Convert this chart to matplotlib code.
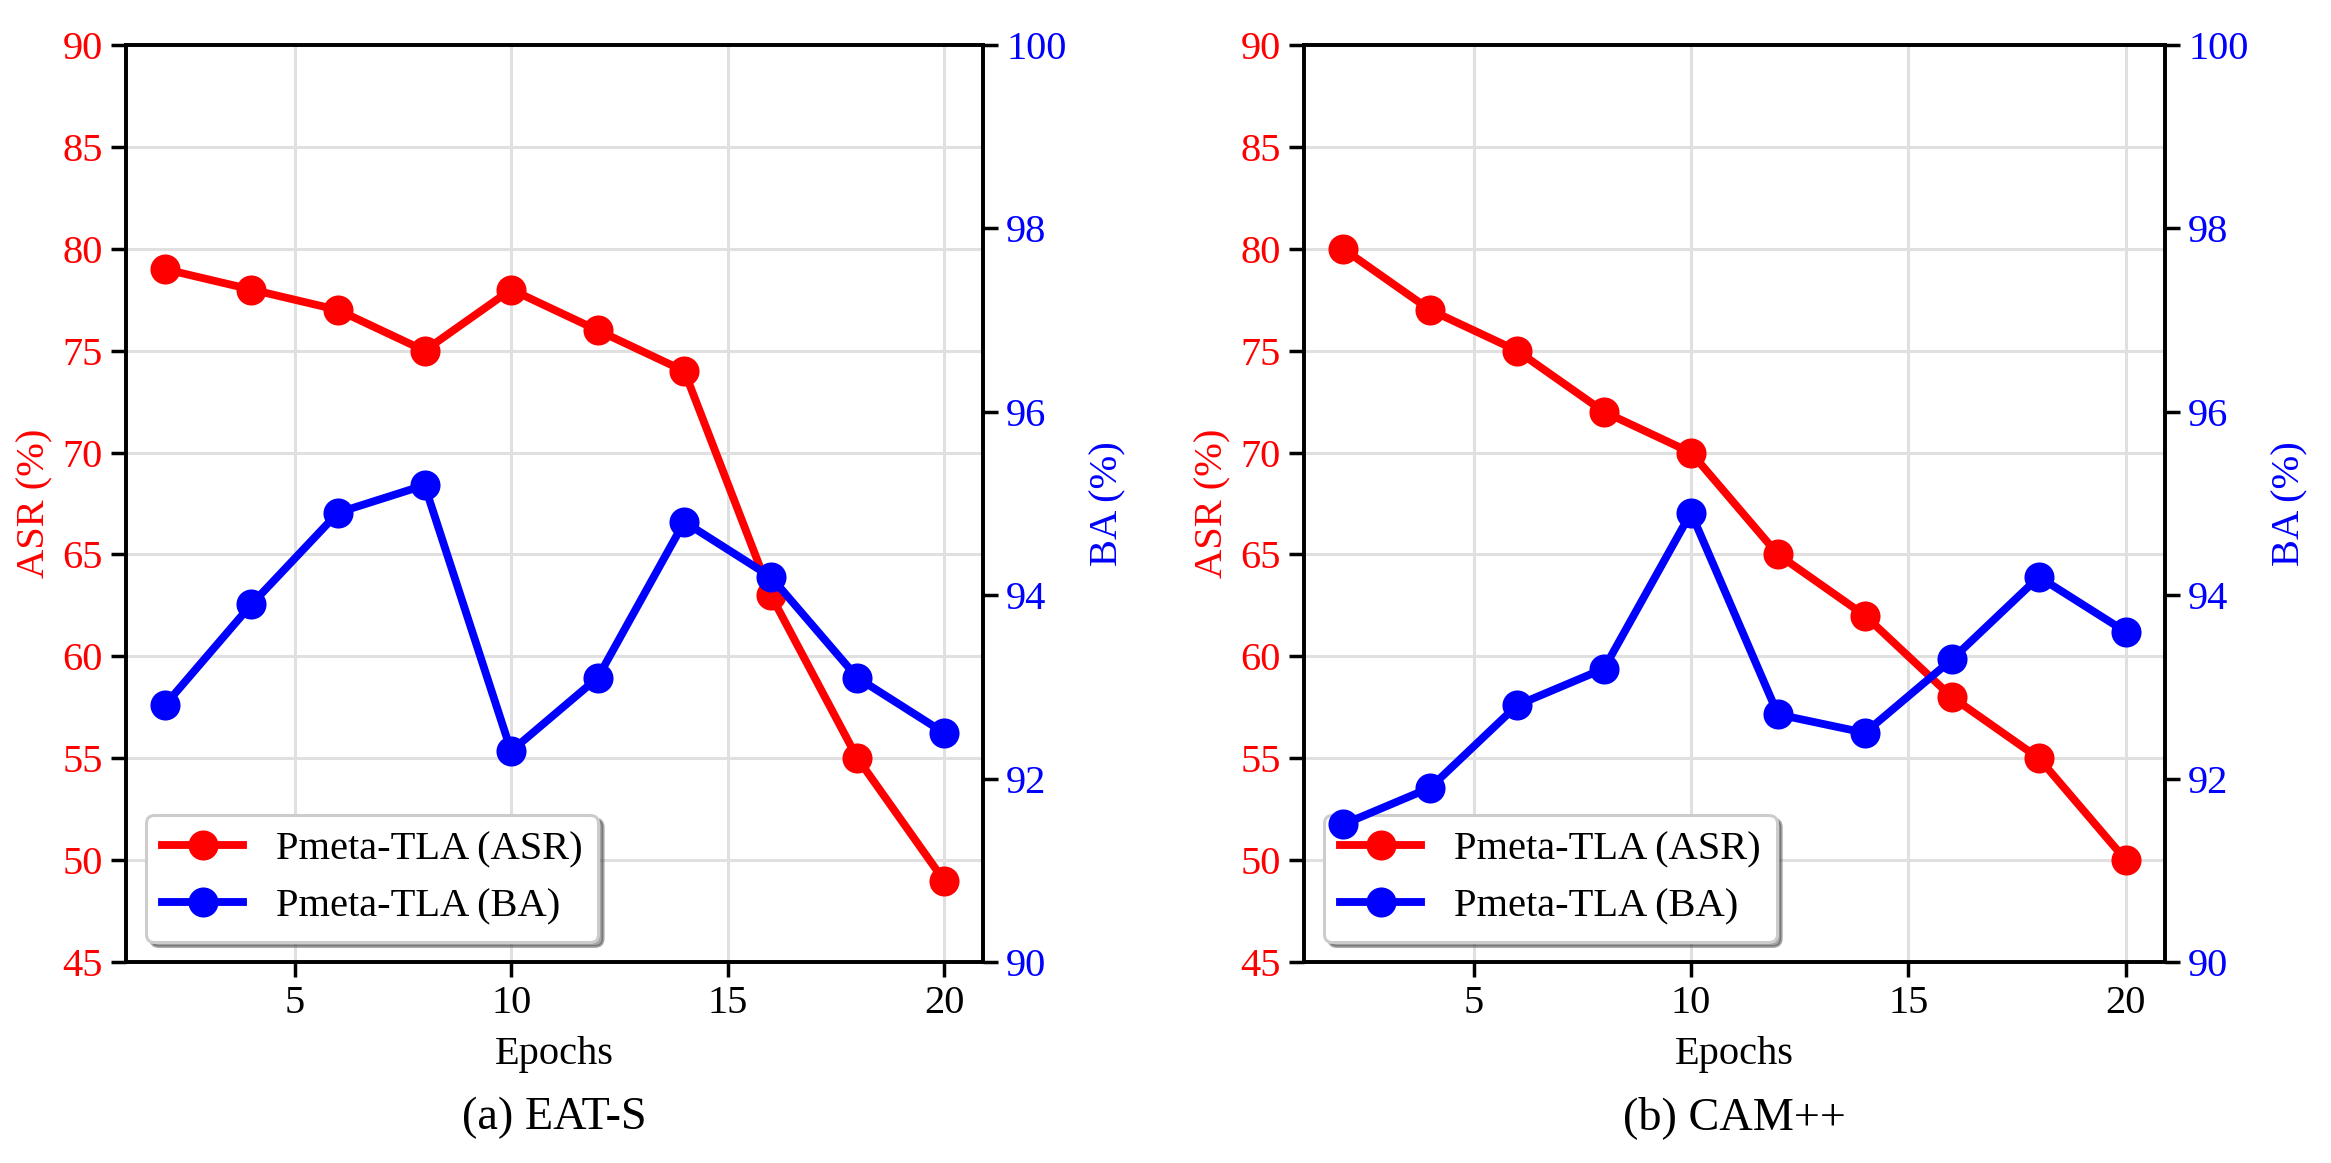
import numpy as np
import matplotlib
matplotlib.use("Agg")
import matplotlib.pyplot as plt

plt.rcParams['font.family'] = 'serif'
plt.rcParams['font.serif'] = ['Liberation Serif', 'DejaVu Serif']

# epochs shared by both panels
epochs = [2, 4, 6, 8, 10, 12, 14, 16, 18, 20]

# (a) EAT-S
eat_asr = [79, 78, 77, 75, 78, 76, 74, 63, 55, 49]
eat_ba = [92.8, 93.9, 94.9, 95.2, 92.3, 93.1, 94.8, 94.2, 93.1, 92.5]

# (b) CAM++
cam_asr = [80, 77, 75, 72, 70, 65, 62, 58, 55, 50]
cam_ba = [91.5, 91.9, 92.8, 93.2, 94.9, 92.7, 92.5, 93.3, 94.2, 93.6]

panels = [("(a) EAT-S", eat_asr, eat_ba), ("(b) CAM++", cam_asr, cam_ba)]
positions = [[0.054, 0.1728, 0.3677, 0.7885], [0.5594, 0.1728, 0.3694, 0.7885]]

dpi = 166.5
fig = plt.figure(figsize=(2331 / dpi, 1163 / dpi), dpi=dpi)
fs = 17.5

for (title, asr, ba), pos in zip(panels, positions):
    ax1 = fig.add_axes(pos)
    ax2 = ax1.twinx()

    l1, = ax1.plot(epochs, asr, color='red', marker='o', lw=3.4, ms=12,
                   label='Pmeta-TLA (ASR)')
    l2, = ax2.plot(epochs, ba, color='blue', marker='o', lw=3.4, ms=12,
                   label='Pmeta-TLA (BA)')

    ax1.set_ylim(45, 90)
    ax1.set_yticks(np.arange(45, 91, 5))
    ax2.set_ylim(90, 100)
    ax2.set_yticks(np.arange(90, 101, 2))
    ax1.set_xticks([5, 10, 15, 20])

    ax1.grid(True, color='#e0e0e0', lw=1.3)
    ax1.set_axisbelow(True)

    ax1.set_xlabel('Epochs', fontsize=fs, labelpad=6)
    ax1.set_ylabel('ASR (%)', color='red', fontsize=fs, labelpad=4)
    ax2.set_ylabel('BA (%)', color='blue', fontsize=fs, labelpad=10)
    ax1.tick_params(axis='y', labelcolor='red', labelsize=fs, width=1.5, length=6.5)
    ax1.tick_params(axis='x', labelsize=fs, width=1.5, length=6.5)
    ax2.tick_params(axis='y', labelcolor='blue', labelsize=fs, width=1.5, length=6.5)
    for sp in ax2.spines.values():
        sp.set_linewidth(1.7)

    leg = ax1.legend([l1, l2], [l1.get_label(), l2.get_label()], loc='lower left',
                     fontsize=fs, shadow=True, fancybox=True, framealpha=1.0,
                     edgecolor='#cccccc')
    leg.get_frame().set_linewidth(1.3)

    ax1.text(0.5, -0.17, title, transform=ax1.transAxes, ha='center',
             va='center', fontsize=20)

fig.savefig('out.png', dpi=dpi)
